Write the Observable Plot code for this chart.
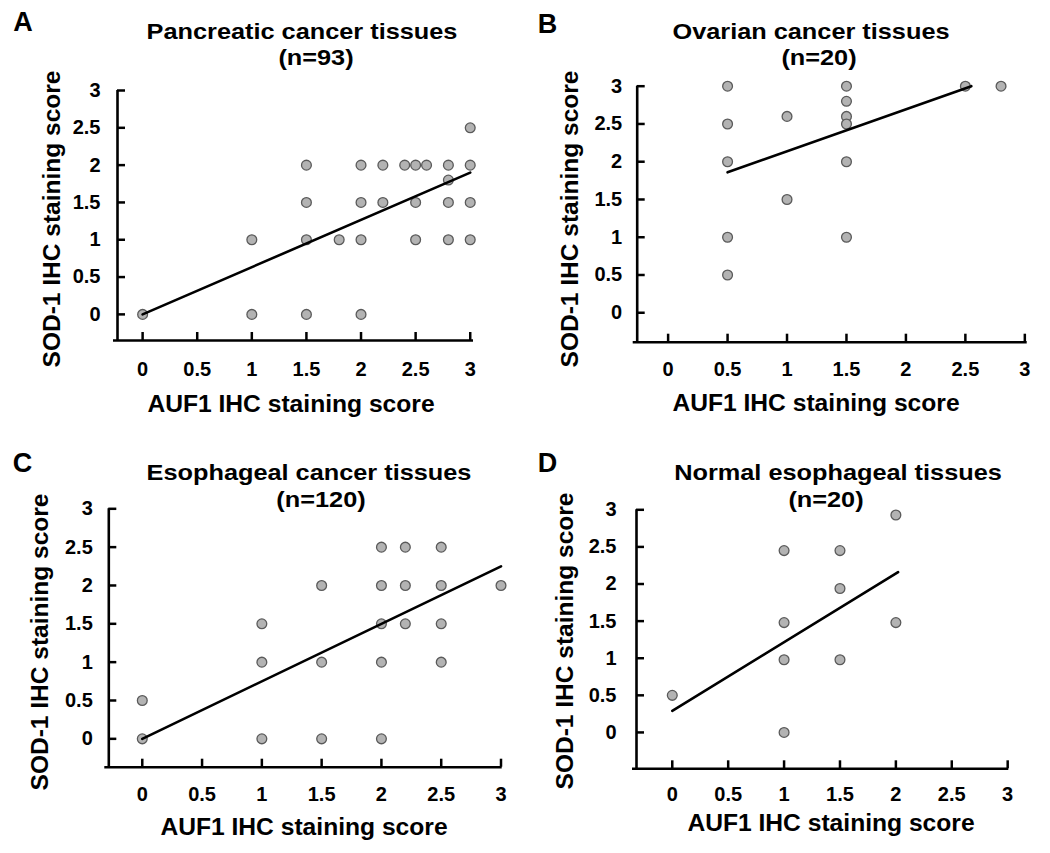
<!DOCTYPE html>
<html><head><meta charset="utf-8">
<script src="https://cdn.jsdelivr.net/npm/d3@7"></script>
<script src="https://cdn.jsdelivr.net/npm/@observablehq/plot@0.6"></script>
<style>
body{margin:0;background:#fff;}
#root{position:relative;width:1050px;height:853px;overflow:hidden;background:#fff;font-family:"Liberation Sans",Arial,sans-serif;font-weight:bold;color:#000;}
.panel{position:absolute;}
.panel text{font-family:"Liberation Sans",Arial,sans-serif;font-weight:bold;}
.lbl{position:absolute;white-space:nowrap;line-height:1;}
</style></head><body><div id="root"></div>
<script>
// ---- data ----
const tickValues = [0, 0.5, 1, 1.5, 2, 2.5, 3];
const tickLabels = ["0", "0.5", "1", "1.5", "2", "2.5", "3"];
const panelLetters = ["A", "B", "C", "D"];
const panelTitles = ["Pancreatic cancer tissues", "Ovarian cancer tissues", "Esophageal cancer tissues", "Normal esophageal tissues"];
const panelCounts = ["(n=93)", "(n=20)", "(n=120)", "(n=20)"];
const xAxisLabel = "AUF1 IHC staining score";
const yAxisLabel = "SOD-1 IHC staining score";

// A: Pancreatic cancer tissues
const aX = [0, 1, 1, 1.5, 1.5, 1.5, 1.5, 1.8, 2, 2, 2, 2, 2.2, 2.2, 2.4, 2.5, 2.6, 2.5, 2.5, 2.8, 2.8, 2.8, 2.8, 3, 3, 3, 3];
const aY = [0, 1, 0, 2, 1.5, 1, 0, 1, 2, 1.5, 1, 0, 2, 1.5, 2, 2, 2, 1.5, 1, 2, 1.8, 1.5, 1, 2.5, 2, 1.5, 1];
const aLineX = [0, 3];
const aLineY = [0, 1.9];

// B: Ovarian cancer tissues
const bX = [0.5, 0.5, 0.5, 0.5, 0.5, 1, 1, 1.5, 1.5, 1.5, 1.5, 1.5, 1.5, 2.5, 2.8];
const bY = [3, 2.5, 2, 1, 0.5, 2.6, 1.5, 3, 2.8, 2.6, 2.5, 2, 1, 3, 3];
const bLineX = [0.5, 2.55];
const bLineY = [1.86, 3.0];

// C: Esophageal cancer tissues
const cX = [0, 0, 1, 1, 1, 1.5, 1.5, 1.5, 2, 2, 2, 2, 2, 2.2, 2.2, 2.2, 2.5, 2.5, 2.5, 2.5, 3];
const cY = [0.5, 0, 1.5, 1, 0, 2, 1, 0, 2.5, 2, 1.5, 1, 0, 2.5, 2, 1.5, 2.5, 2, 1.5, 1, 2];
const cLineX = [0, 3];
const cLineY = [0, 2.25];

// D: Normal esophageal tissues
const dX = [0, 1, 1, 1, 1, 1.5, 1.5, 1.5, 2, 2];
const dY = [0.5, 2.45, 1.48, 0.98, 0, 2.45, 1.94, 0.98, 2.93, 1.48];
const dLineX = [0, 2.02];
const dLineY = [0.29, 2.16];

// ---- layout ----
const panels = [
  {xs: aX, ys: aY, lx: aLineX, ly: aLineY, left: 0, top: 0, width: 520, height: 420,
   ml: 117, mr: 47, mt: 90, mb: 80, xd: [-0.23, 3.03], yd: [-0.35, 3], padY: 17, padX: 21,
   letter: [23, 22], t1: [302, 32], t2: [316, 58], xl: [291, 403.5], yl: [52, 219]},
  {xs: bX, ys: bY, lx: bLineX, ly: bLineY, left: 520, top: 0, width: 530, height: 420,
   ml: 116.7, mr: 23.3, mt: 85.7, mb: 78.3, xd: [-0.26, 3.02], yd: [-0.39, 3], padY: 15, padX: 20,
   letter: [547.5, 24], t1: [811, 32], t2: [819, 58], xl: [816, 403], yl: [570, 219]},
  {xs: cX, ys: cY, lx: cLineX, ly: cLineY, left: 0, top: 420, width: 520, height: 433,
   ml: 108.3, mr: 18.3, mt: 88.3, mb: 86.3, xd: [-0.28, 3.01], yd: [-0.37, 3], padY: 16, padX: 20,
   letter: [22.5, 462.5], t1: [309, 472.5], t2: [321, 499.5], xl: [304, 827], yl: [40, 642]},
  {xs: dX, ys: dY, lx: dLineX, ly: dLineY, left: 520, top: 420, width: 530, height: 433,
   ml: 116, mr: 41.7, mt: 89.3, mb: 84.7, xd: [-0.32, 3.01], yd: [-0.49, 3], padY: 20, padX: 18,
   letter: [547.5, 462.5], t1: [837.5, 473], t2: [825.5, 499.5], xl: [831, 823], yl: [565, 641]}
];

const root = document.getElementById("root");
const fmt = d => tickLabels[tickValues.indexOf(d)];
const TICK_PX = 8;

function addLabel(text, [cx, cy], size, extra = "") {
  const el = document.createElement("div");
  el.className = "lbl";
  el.textContent = text;
  el.style.left = cx + "px";
  el.style.top = cy + "px";
  el.style.fontSize = size + "px";
  el.style.transform = `translate(-50%,-50%) ${extra}`;
  root.appendChild(el);
}

panels.forEach((p, i) => {
  const pts = p.xs.map((x, j) => ({x, y: p.ys[j]}));
  const line = p.lx.map((x, j) => ({x, y: p.ly[j]}));
  const innerW = p.width - p.ml - p.mr;
  const innerH = p.height - p.mt - p.mb;
  // inward tick length (px) expressed in each scale's data units
  const tickLenX = TICK_PX * (p.xd[1] - p.xd[0]) / innerW;
  const tickLenY = TICK_PX * (p.yd[1] - p.yd[0]) / innerH;
  const chart = Plot.plot({
    width: p.width, height: p.height,
    marginLeft: p.ml, marginRight: p.mr, marginTop: p.mt, marginBottom: p.mb,
    x: {domain: p.xd},
    y: {domain: p.yd},
    style: {fontSize: "20px", fontWeight: "bold", background: "transparent"},
    marks: [
      Plot.ruleX([p.xd[0]], {stroke: "#000", strokeWidth: 2.6}),
      Plot.ruleY([p.yd[0]], {stroke: "#000", strokeWidth: 2.6, insetLeft: -4}),
      Plot.ruleY(tickValues, {y: d => d, x1: p.xd[0], x2: p.xd[0] + tickLenX, stroke: "#000", strokeWidth: 2.5}),
      Plot.ruleX(tickValues, {x: d => d, y1: p.yd[0], y2: p.yd[0] + tickLenY, stroke: "#000", strokeWidth: 2.5}),
      Plot.axisY(tickValues, {tickSize: 0, tickPadding: p.padY, tickFormat: fmt, label: null, fontSize: 20}),
      Plot.axisX(tickValues, {tickSize: 0, tickPadding: p.padX, tickFormat: fmt, label: null, fontSize: 20}),
      Plot.dot(pts, {x: "x", y: "y", r: 4.9, fill: "#b3b3b3", stroke: "#5a5a5a", strokeWidth: 1.3}),
      Plot.line(line, {x: "x", y: "y", stroke: "#000", strokeWidth: 2.6})
    ]
  });
  chart.classList.add("panel");
  chart.style.left = p.left + "px";
  chart.style.top = p.top + "px";
  root.appendChild(chart);

  addLabel(panelLetters[i], p.letter, 27);
  addLabel(panelTitles[i], p.t1, 22, "scaleX(1.15)");
  addLabel(panelCounts[i], p.t2, 22, "scaleX(1.15)");
  addLabel(xAxisLabel, p.xl, 23, "scaleX(1.07)");
  addLabel(yAxisLabel, p.yl, 24.5, "rotate(-90deg)");
});
</script>
</body></html>
